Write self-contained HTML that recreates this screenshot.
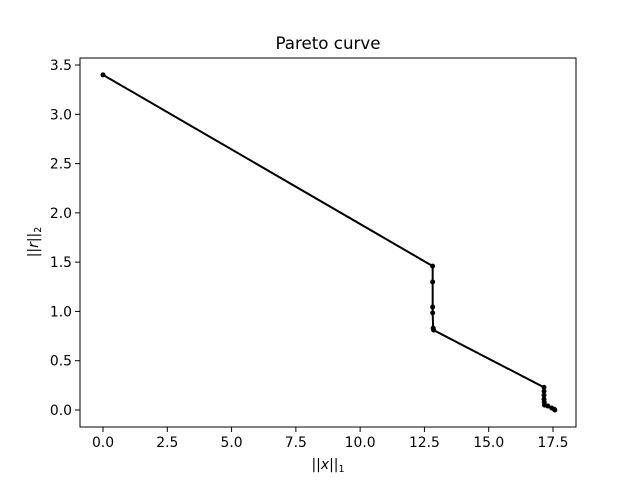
<!DOCTYPE html>
<html><head><meta charset="utf-8"><style>
body{margin:0;background:#fff;font-family:"DejaVu Sans","Liberation Sans",sans-serif}
svg text{font-family:"DejaVu Sans","Liberation Sans",sans-serif;font-size:13.9px}
</style></head><body>
<svg id="chart" width="640" height="480" xmlns="http://www.w3.org/2000/svg">
<rect width="640" height="480" fill="#fff"/>
<text x="328" y="49" text-anchor="middle" style="font-size:16.7px">Pareto curve</text>
<g id="axes"></g>
<g id="marks"></g>
<text x="328" y="469" text-anchor="middle">||<tspan font-style="italic">x</tspan>||<tspan font-size="9.5" dy="3">1</tspan></text>
<text transform="translate(38,242) rotate(-90)" text-anchor="middle">||<tspan font-style="italic">r</tspan>||<tspan font-size="9.5" dy="3">2</tspan></text>
</svg>
<script>
const xVals=[0,12.82,12.82,12.82,12.82,12.84,12.86,17.15,17.15,17.15,17.15,17.16,17.17,17.3,17.45,17.55,17.57];
const yVals=[3.40,1.46,1.30,1.045,0.985,0.83,0.81,0.23,0.19,0.15,0.11,0.08,0.05,0.04,0.02,0.008,0.0];
const xTicks=[0,2.5,5,7.5,10,12.5,15,17.5];
const yTicks=[0,0.5,1,1.5,2,2.5,3,3.5];
const L=80,R=576,T=58,B=427;
const X=v=>103+v*(450/17.5);
const Y=v=>410-v*(345/3.5);
const NS="http://www.w3.org/2000/svg";
const ax=document.getElementById('axes'),mk=document.getElementById('marks');
function mkEl(t,a,p){const e=document.createElementNS(NS,t);for(const k in a)e.setAttribute(k,a[k]);p.appendChild(e);return e;}
const frame=mkEl('rect',{x:L,y:T,width:R-L,height:B-T,fill:'none',stroke:'#000','stroke-width':1},ax);


xTicks.forEach(v=>{
 const tk=mkEl('line',{x1:X(v),x2:X(v),y1:B,y2:B+5,stroke:'#000','stroke-width':1},ax);
 
 
 const t=mkEl('text',{x:X(v),y:B+20,'text-anchor':'middle'},ax);t.textContent=v.toFixed(1);
 
 
});
yTicks.forEach(v=>{
 const tk=mkEl('line',{x1:L-5,x2:L,y1:Y(v),y2:Y(v),stroke:'#000','stroke-width':1},ax);
 
 
 const t=mkEl('text',{x:L-8,y:Y(v)+5,'text-anchor':'end'},ax);t.textContent=v.toFixed(1);
 
 
});
const pl=mkEl('polyline',{points:xVals.map((v,i)=>X(v)+','+Y(yVals[i])).join(' '),fill:'none',stroke:'#000','stroke-width':2},mk);


xVals.forEach((v,i)=>{
 const c=mkEl('circle',{cx:X(v),cy:Y(yVals[i]),r:2.5,fill:'#000'},mk);
 
 
});
</script>
</body></html>
